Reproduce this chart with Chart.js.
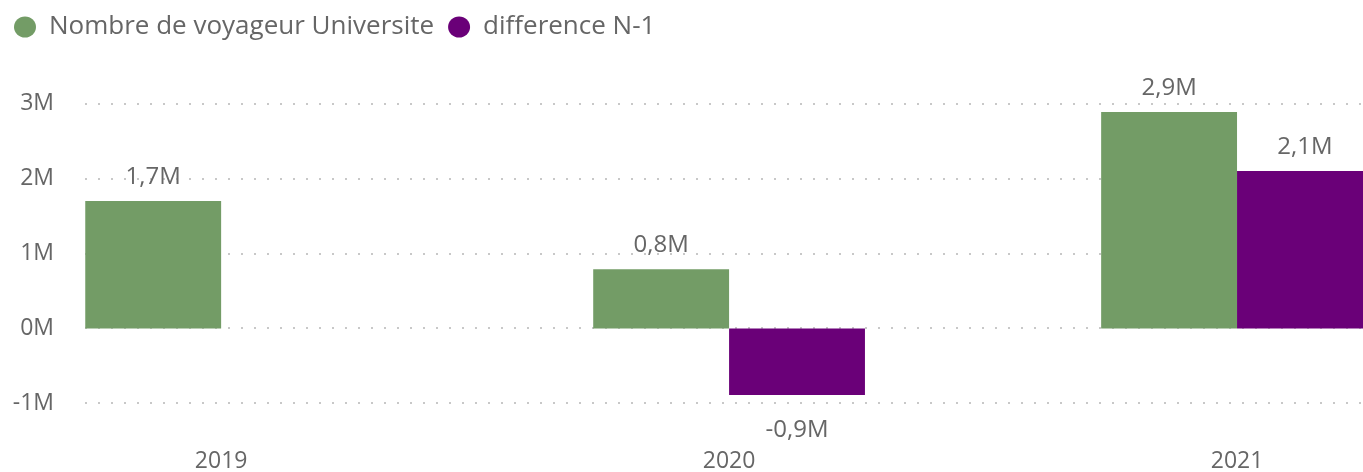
<!DOCTYPE html>
<html>
<head>
<meta charset="utf-8">
<script src="https://cdn.jsdelivr.net/npm/chart.js@4.4.0/dist/chart.umd.min.js"></script>
<style>
  html, body { margin: 0; padding: 0; background: #fff; }
  #wrap { width: 1363px; height: 472px; position: relative; }
</style>
</head>
<body>
<div id="wrap"><canvas id="myChart"></canvas></div>
<script>
const years = ['2019', '2020', '2021'];
const voyageurs = [1700000, 790000, 2890000];
const difference = [null, -890000, 2100000];
const yTicks = [-1000000, 0, 1000000, 2000000, 3000000];
const yTickLabels = ['-1M', '0M', '1M', '2M', '3M'];

const grey = '#666666';

// dotted grid lines (drawn here so the bars sit right on the 0 line)
const dotGrid = {
  id: 'dotGrid',
  beforeDatasetsDraw(chart) {
    const ctx = chart.ctx;
    const y = chart.scales.y;
    const area = chart.chartArea;
    ctx.save();
    ctx.strokeStyle = '#c8c8c8';
    ctx.lineWidth = 2;
    ctx.setLineDash([2, 11]);
    yTicks.forEach(v => {
      const py = Math.round(y.getPixelForValue(v));
      ctx.beginPath();
      ctx.moveTo(area.left, py);
      ctx.lineTo(area.right, py);
      ctx.stroke();
    });
    ctx.restore();
  }
};

// value labels over / under the bars
const barLabels = {
  id: 'barLabels',
  afterDatasetsDraw(chart) {
    const ctx = chart.ctx;
    ctx.save();
    ctx.font = '24px "Open Sans"';
    ctx.fillStyle = grey;
    ctx.textAlign = 'center';
    ctx.textBaseline = 'alphabetic';
    chart.data.datasets.forEach((ds, i) => {
      const meta = chart.getDatasetMeta(i);
      meta.data.forEach((bar, j) => {
        const v = ds.data[j].y;
        if (v === null) return;
        const txt = (v / 1000000).toFixed(1).replace('.', ',') + 'M';
        if (v >= 0) {
          ctx.fillText(txt, bar.x, bar.y - 17);
        } else {
          ctx.fillText(txt, bar.x, bar.y + 42);
        }
      });
    });
    ctx.restore();
  }
};

const ctx = document.getElementById('myChart');
const myChart = new Chart(ctx, {
  type: 'bar',
  data: {
    datasets: [{
      label: 'Nombre de voyageur Universite',
      data: voyageurs.map((v, i) => ({x: i, y: v})),
      backgroundColor: '#739C66',
      borderWidth: 0
    }, {
      label: 'difference N-1',
      data: difference.map((v, i) => ({x: i, y: v})),
      backgroundColor: '#6A0078',
      borderWidth: 0
    }]
  },
  options: {
    responsive: true,
    maintainAspectRatio: false,
    animation: false,
    categoryPercentage: 0.535,
    barPercentage: 1,
    layout: { padding: 0 },
    plugins: {
      legend: {
        position: 'top',
        align: 'start',
        labels: {
          usePointStyle: true,
          pointStyle: 'circle',
          pointStyleWidth: 22,
          boxHeight: 15,
          padding: 14,
          color: grey,
          font: { family: 'Open Sans', size: 26 }
        }
      },
      tooltip: { enabled: false }
    },
    scales: {
      x: {
        type: 'linear',
        min: -0.268,
        max: 2.248,
        offset: false,
        grid: { display: false },
        border: { display: false },
        afterBuildTicks: (scale) => {
          scale.ticks = years.map((y, i) => ({value: i}));
        },
        afterFit: (scale) => { scale.height = 40; },
        ticks: {
          color: grey,
          font: { family: 'Open Sans', size: 23 },
          padding: 8,
          maxRotation: 0,
          callback: (v) => years[v]
        }
      },
      y: {
        min: -1383000,
        max: 3717000,
        border: { display: false },
        grid: { display: false },
        afterBuildTicks: (scale) => {
          scale.ticks = yTicks.map(v => ({value: v}));
        },
        afterFit: (scale) => { scale.width = 85; },
        ticks: {
          color: grey,
          font: { family: 'Open Sans', size: 23 },
          padding: 23,
          callback: (v) => yTickLabels[yTicks.indexOf(v)]
        }
      }
    }
  },
  plugins: [dotGrid, barLabels]
});
</script>
</body>
</html>
